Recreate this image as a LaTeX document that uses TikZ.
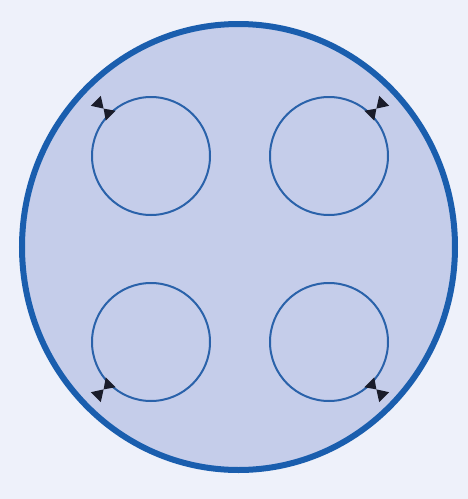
\documentclass[tikz,border=0pt]{standalone}
\begin{document}
\begin{tikzpicture}[x=1pt,y=-1pt,
  bigring/.style={draw=ringblue,line width=6pt,fill=fillblue},
  loopring/.style={draw=loopblue,line width=2pt},
  tri/.style={fill=tipdark,draw=none}]
\definecolor{ringblue}{HTML}{1A5EAE}
\definecolor{fillblue}{HTML}{C5CDEA}
\definecolor{loopblue}{HTML}{2A62AA}
\definecolor{tipdark}{HTML}{1A1C2A}
\definecolor{bgcol}{HTML}{EEF1FA}
\fill[bgcol] (0,0) rectangle (468,499);
\useasboundingbox (0,0) rectangle (468,499);
\draw[bigring] (238.5,247) ellipse [x radius=216.5, y radius=223];
\foreach \cx/\cy/\ang [count=\i] in {151/156/135, 329/156/45, 151/342/-135, 329/342/-45}{
  \coordinate (c\i) at (\cx,\cy);
  \draw[loopring] (c\i) circle [radius=59];
  \begin{scope}[shift={(c\i)},rotate=\ang]
    \coordinate (bt\i) at (67,0);
    \fill[tri] (57,-7) -- (57,7) -- (bt\i) -- cycle;
    \fill[tri] (78,-7) -- (78,7) -- (bt\i) -- cycle;
  \end{scope}
}
\end{tikzpicture}
\end{document}
